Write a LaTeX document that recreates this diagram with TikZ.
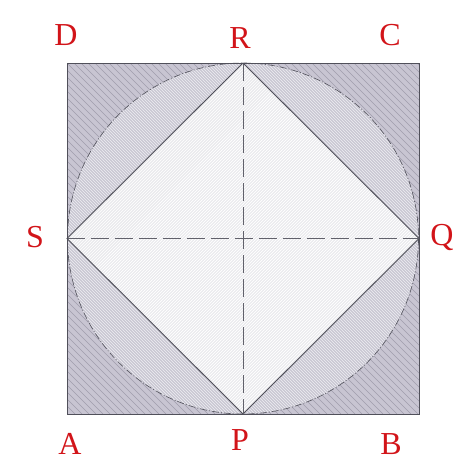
\documentclass[tikz,border=0pt]{standalone}
\usepackage{fontspec}
\setmainfont{Liberation Serif}
\definecolor{outerfill}{RGB}{200,197,210}
\definecolor{outerhatch}{RGB}{160,157,173}
\definecolor{circfill}{RGB}{196,194,207}
\definecolor{diafill}{RGB}{234,234,237}
\definecolor{edge}{RGB}{80,80,90}
\definecolor{lab}{RGB}{210,20,25}
\tikzset{
  lbl/.style={text=lab, font=\fontsize{32}{32}\selectfont, inner sep=0pt},
  edgeline/.style={draw=edge, line width=0.9pt},
  centerline/.style={draw=edge!90, line width=0.9pt, dash pattern=on 18pt off 6pt},
  circline/.style={draw=edge, line width=0.6pt, dash pattern=on 7pt off 2pt on 1pt off 2pt}
}
\begin{document}
\begin{tikzpicture}[x=1pt,y=-1pt]
\useasboundingbox (0,0) rectangle (474,474);
\coordinate (A) at (67,414);
\coordinate (B) at (419,414);
\coordinate (C) at (419,63);
\coordinate (D) at (67,63);
\coordinate (P) at (243,414);
\coordinate (Q) at (419,238.5);
\coordinate (R) at (243,63);
\coordinate (S) at (67,238.5);
\coordinate (O) at (243,238.5);
% outer square fill and hatching
\fill[outerfill] (A) rectangle (C);
\begin{scope}
  \clip (A) rectangle (C);
  \foreach \x in {-360,-353,...,420} {
    \draw[outerhatch, line width=0.6pt] (\x,63) -- (\x+351,414);
  }
\end{scope}
% circle segments
\fill[circfill] (O) circle[radius=175.5];
\begin{scope}
  \clip (O) circle[radius=175.5];
  \foreach \x in {-360,-357,...,420} {
    \draw[white!60!circfill, line width=1pt] (\x,63) -- (\x+351,414);
  }
\end{scope}
% diamond
\fill[diafill] (P) -- (Q) -- (R) -- (S) -- cycle;
\begin{scope}
  \clip (P) -- (Q) -- (R) -- (S) -- cycle;
  \foreach \x in {-360,-357,...,420} {
    \draw[white, line width=0.7pt] (\x,414) -- (\x+351,63);
  }
\end{scope}
\draw[edgeline] (P) -- (Q) -- (R) -- (S) -- cycle;
\draw[circline] (O) circle[radius=175.5];
\draw[centerline] (S) -- (Q);
\draw[centerline] (R) -- (P);
\draw[edgeline] (A) rectangle (C);
% labels
\node[lbl] (lD) at (66,35) {D};
\node[lbl] (lR) at (240,38) {R};
\node[lbl] (lC) at (390,35) {C};
\node[lbl] (lS) at (35,237) {S};
\node[lbl] (lQ) at (442,237) {Q};
\node[lbl] (lA) at (70,444) {A};
\node[lbl] (lP) at (240,440) {P};
\node[lbl] (lB) at (391,444) {B};
\end{tikzpicture}
\end{document}
